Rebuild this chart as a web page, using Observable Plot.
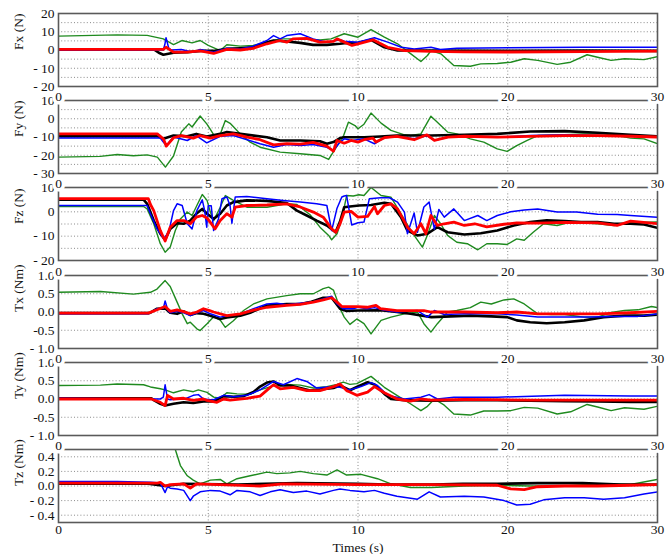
<!DOCTYPE html>
<html><head><meta charset="utf-8">
<script src="https://cdn.jsdelivr.net/npm/d3@7"></script>
<script src="https://cdn.jsdelivr.net/npm/@observablehq/plot@0.6"></script>
<style>
body{margin:0;background:#fff;}
#chart svg{display:block;font-family:"Liberation Serif",serif;}
#chart svg text{font-family:"Liberation Serif",serif;}
</style>
</head><body><div id="chart"></div>
<script>
// ---- axis ticks ----
const timeTicks = [0, 5, 10, 20, 30];
const timeTickLabels = ["0", "5", "10", "20", "30"];
const timeGrid = [5, 10, 20];
const timeBreaks = [0, 10, 30];

const fxTicks = [20, 10, 0, -10, -20];
const fxTickLabels = ["20", "10", "0", "- 10", "- 20"];
const fxGrid = [15, 10, 5, 0, -5, -10, -15];
const fyTicks = [10, 0, -10, -20, -30];
const fyTickLabels = ["10", "0", "- 10", "- 20", "- 30"];
const fyGrid = [5, 0, -5, -10, -15, -20, -25];
const fzTicks = [10, 0, -10, -20];
const fzTickLabels = ["10", "0", "- 10", "- 20"];
const fzGrid = [5, 0, -5, -10, -15];
const txTicks = [1, 0.5, 0, -0.5, -1];
const txTickLabels = ["1.0", "0.5", "0.0", "-0.5", "- 1.0"];
const txGrid = [0.5, 0, -0.5];
const tyTicks = [1, 0.5, 0, -0.5, -1];
const tyTickLabels = ["1.0", "0.5", "0.0", "-0.5", "- 1.0"];
const tyGrid = [0.5, 0, -0.5];
const tzTicks = [0.4, 0.2, 0, -0.2, -0.4];
const tzTickLabels = ["0.4", "0.2", "0.0", "- 0.2", "- 0.4"];
const tzGrid = [0.4, 0.2, 0, -0.2, -0.4];

// ---- series: [time (s), value] ----
const fxBlack = [[0,0.2],[3.2,0.2],[3.35,-1.5],[3.5,-2.6],[3.84,-1.5],[4.3,-1.2],[4.73,-0.5],[5.18,-0.5],[5.62,0.6],[6.07,1],[6.5,1.5],[6.96,4.3],[7.18,5.2],[7.62,4.7],[8.07,3.9],[8.5,2.8],[8.96,2.8],[9.4,3.4],[9.54,3.7],[10,3.9],[10.87,5.6],[11.76,1.5],[12.64,-0.3],[15,-0.3],[20,-0.5],[25,-0.3],[30,-0.5]];
const fxBlue = [[0,0],[3.5,0],[3.55,3],[3.59,6.7],[3.68,1],[3.77,0],[4.1,0.3],[4.5,-1.2],[4.73,0.3],[5.18,-1.2],[5.62,1],[6.07,0.6],[6.5,2.1],[6.96,5.2],[7.18,7.9],[7.4,6.1],[7.62,7.9],[8.07,8.9],[8.5,6.1],[8.96,4.3],[9.4,5.6],[9.54,4.8],[10,4.3],[11.1,6.7],[11.98,4.3],[12.9,1.5],[13.75,0.6],[14.87,1.5],[15.5,0.3],[16.6,1],[20,1.3],[25,1.5],[30,1.5]];
const fxRed = [[0,0.3],[3.5,0.3],[3.59,1.5],[3.84,-1.2],[4.3,-1.2],[4.73,-0.5],[5.18,-1.9],[5.62,0.3],[6.07,0],[6.5,0.9],[6.96,3.4],[7.4,5.2],[7.62,4.3],[7.84,6.1],[8.29,6.4],[8.73,4.3],[9.18,4.7],[9.3,6.1],[9.8,2.5],[10,3.4],[11,5.6],[11.98,1.5],[13.1,-0.3],[14.87,-0.7],[17,-1.0],[20,-1.1],[25,-0.9],[30,-0.6]];
const fxGreen = [[0,7.6],[1.96,8.3],[2.96,8.0],[3.5,6.1],[3.84,3.0],[4.12,5.2],[4.46,3.9],[4.73,5.2],[5.0,2.5],[5.4,-0.3],[5.62,2.9],[6.07,2.1],[6.5,2.5],[6.96,4.3],[7.4,6.1],[8.07,6.1],[8.73,5.5],[9.1,6.1],[9.54,8.9],[10,7.0],[10.87,11.2],[11.76,7.0],[12.64,3.4],[13.53,-2.1],[14.2,-6.3],[14.64,-3.0],[14.87,-0.3],[15.53,-2.1],[16.4,-8.5],[17.5,-8.9],[18.2,-7.6],[19.3,-7.4],[20.2,-6.7],[21.1,-4.8],[22,-5.7],[23.3,-7.9],[24.2,-6.7],[25.3,-2.6],[26,-4],[26.9,-5.7],[27.8,-4.8],[29.1,-5.3],[30,-3.6]];

const fyBlack = [[0,-9.5],[3.3,-9.5],[3.5,-11],[3.84,-9.2],[4.3,-9.6],[4.6,-8.3],[4.95,-9.7],[5.4,-8.3],[5.62,-7.3],[6.07,-8.3],[6.96,-10.1],[7.4,-11.9],[8.07,-11.9],[8.73,-12.3],[8.96,-13.7],[9.18,-12.8],[9.4,-10.6],[9.54,-10.1],[10.4,-10.1],[11.5,-9.7],[12.6,-9.2],[14.9,-9.2],[17.1,-8.8],[19.3,-8.3],[21.5,-7],[23.8,-6.8],[26,-7.7],[28.2,-8.8],[30,-9.7]];
const fyBlue = [[0,-10.6],[3.4,-10.6],[3.5,-12.8],[3.6,-14.7],[3.84,-10],[4.3,-11.9],[4.6,-9.2],[4.95,-13.2],[5.4,-9.6],[5.84,-9.2],[6.3,-11.5],[6.73,-13.7],[7.18,-15.6],[7.62,-14.1],[8.07,-14.7],[8.5,-14.1],[8.96,-15.6],[9.18,-17.4],[9.4,-12.8],[9.54,-11],[9.8,-11.9],[10.4,-11],[11.1,-13.7],[11.76,-10.4],[12.6,-9.7],[13.75,-11],[14.6,-9.2],[15.1,-11.9],[16,-10.1],[17.1,-10.1],[19.3,-10.1],[21.5,-9.2],[23.8,-8.8],[26,-9.2],[28.2,-9.6],[30,-10.1]];
const fyRed = [[0,-8.3],[3.3,-8.3],[3.5,-11],[3.6,-15],[3.84,-10.4],[4.1,-9.2],[4.5,-10.6],[4.73,-9.2],[5.07,-10.6],[5.4,-9.2],[5.84,-8.3],[6.3,-10.1],[6.73,-11.5],[7.18,-14.3],[7.62,-13.6],[8.07,-13.9],[8.5,-13],[8.96,-15],[9.18,-17.8],[9.3,-11.9],[9.54,-13.4],[9.77,-11.9],[10,-12.8],[10.4,-11.5],[11,-10.6],[11.2,-12.8],[11.76,-10.4],[12.6,-9.7],[13.75,-11.5],[14.6,-8.8],[15.1,-11.9],[16,-10.1],[17.1,-9.6],[19.3,-10.1],[21.5,-9.7],[23.8,-9.2],[26,-9.2],[28.2,-9.6],[30,-10]];
const fyGreen = [[0,-21],[1.4,-20.6],[1.96,-19.6],[2.5,-20.3],[2.96,-19.8],[3.3,-21],[3.57,-26.5],[3.84,-20.4],[4.1,-7.3],[4.35,-2.8],[4.46,-4.5],[4.73,1.5],[4.95,-2.8],[5.06,-5.5],[5.23,-10.1],[5.4,-8.5],[5.57,-1],[5.73,-2.5],[6.07,-8.3],[6.4,-12.8],[6.73,-15.6],[7.4,-18.3],[8.07,-19.2],[8.73,-20.1],[9.02,-22.3],[9.24,-16.5],[9.52,-9.2],[9.68,-1.9],[9.9,-3.7],[10.0,-5.5],[10.4,-3],[10.87,3.1],[11.54,-2.4],[12.2,-6.4],[13.1,-8.8],[13.53,-9.2],[14.2,-8.3],[14.87,1.4],[15.3,-1.9],[15.98,-7.3],[16.6,-8.3],[17.5,-11],[18.4,-12.8],[19.3,-16.5],[19.96,-17.9],[20.6,-14.7],[21.3,-11.9],[22,-9.2],[23.8,-8.7],[25.1,-8.3],[26.4,-8.3],[27.3,-9.2],[28.2,-10.6],[29.1,-11],[30,-13.7]];

const fzBlack = [[0,5],[2.84,5],[2.96,3.3],[3.18,-3.6],[3.4,-9],[3.56,-11.5],[3.73,-7],[3.96,-4.7],[4.18,-4.9],[4.4,-3.6],[4.6,-0.8],[4.8,1.2],[4.96,-0.8],[5.18,-2.9],[5.4,-0.8],[5.62,2.6],[5.84,4],[6.29,4.7],[6.96,4.5],[7.62,3.6],[7.96,0.5],[8.29,-1.5],[8.62,-3.6],[8.96,-5.6],[9.25,-8.4],[9.4,-4],[9.54,1.9],[9.73,2.2],[10.07,2.6],[10.87,2.8],[11.76,3.7],[12.2,3.3],[12.87,-2.2],[13.3,-7.7],[13.97,-9.7],[14.64,-9.0],[15.3,-6.3],[15.98,-8.4],[17.1,-9.3],[18.2,-8.8],[19.3,-7.7],[20.4,-5.6],[21.5,-4.2],[22.6,-3.5],[23.8,-3.8],[24.9,-4.2],[26,-4.2],[27.1,-4.9],[28.2,-4.9],[29.1,-5.2],[30,-6.6]];
const fzBlue = [[0,2.6],[2.96,2.6],[3.07,-0.8],[3.29,-7],[3.51,-11],[3.68,-8.4],[3.84,0.5],[3.96,3.3],[4.13,2.6],[4.3,-4.9],[4.46,-7],[4.62,0.5],[4.8,4.9],[4.88,0.5],[4.95,-6.3],[5.0,2.5],[5.1,2.5],[5.18,-7.7],[5.34,-3],[5.46,5.4],[5.62,6.1],[5.73,2.5],[5.79,-4.7],[5.9,6.1],[6.29,6.3],[6.96,5.4],[7.5,4.7],[8.07,4],[8.62,3.3],[8.96,2.6],[9.12,-7.7],[9.3,1.5],[9.46,6.1],[9.54,6.5],[9.62,6.7],[9.79,-5.4],[10,-4.5],[10.4,-4.2],[10.76,5.4],[11.5,5.8],[12.1,5.8],[12.64,4],[13.1,-0.1],[13.3,-9],[13.75,-0.5],[13.97,-8.4],[14.4,2],[14.75,4],[15.1,-7.1],[15.4,1],[15.76,-2.2],[16.4,1.2],[17.1,-3.6],[18,-1.5],[18.6,-3.6],[19.3,-1.5],[20.2,0],[21.1,0.8],[22,1.2],[23.3,-0.1],[24.6,-0.1],[26,-1],[27.3,-1.1],[28.2,-1.5],[30,-2.2]];
const fzRed = [[0,5.4],[3.0,5.4],[3.07,3],[3.18,0.5],[3.4,-7.7],[3.56,-12],[3.73,-6.3],[3.96,-3.6],[4.18,-3.6],[4.4,-4.9],[4.6,-2.2],[4.8,-1.5],[4.96,-2.5],[5.23,-7],[5.4,-3.6],[5.62,-0.8],[5.79,-2.2],[5.9,1.9],[6.29,2.6],[6.96,2.8],[7.62,3.3],[8.07,2],[8.51,-0.1],[8.84,-2.2],[9.12,-7],[9.26,-8.4],[9.4,-4.9],[9.54,-0.1],[9.77,0.2],[10,-2.2],[10.64,-1.9],[11.1,2.2],[11.3,-0.8],[11.76,2.6],[12.2,3.3],[12.64,1.2],[13.3,-6.3],[13.75,-9],[14.2,-4.9],[14.53,-9],[14.87,-1.5],[15.3,-5.6],[15.76,-4.9],[16.4,-4.2],[17.1,-5.6],[17.8,-4.9],[18.6,-6.2],[19.75,-5.1],[20.6,-4.5],[22,-4.6],[23.8,-4.3],[26,-4.5],[27.3,-5.6],[28.2,-3.8],[30,-4.9]];
const fzGreen = [[0,2.2],[2.84,2.2],[2.96,1.2],[3.18,-4.9],[3.4,-13.1],[3.56,-16.6],[3.73,-14.5],[3.9,-7.7],[4.07,-2.9],[4.3,-0.1],[4.46,-1.5],[4.62,2.6],[4.8,7.1],[4.96,4.7],[5.07,-0.1],[5.18,-3.6],[5.4,1.9],[5.57,6.7],[5.84,4.7],[6.29,1.9],[6.96,1.9],[7.62,3.3],[7.96,3],[8.4,-1.2],[8.73,-6.3],[9.02,-9.7],[9.12,-11.5],[9.3,-9],[9.46,-3],[9.62,6.7],[9.84,6.5],[10.07,7],[10.4,6.7],[10.87,10],[11.54,6.7],[12.2,6],[12.87,-0.8],[13.53,-7.7],[14.3,-14.5],[14.64,-9.5],[15.1,-1.5],[15.53,-5],[15.98,-9.7],[16.6,-12.5],[17.3,-13.1],[18,-15.6],[18.6,-13.1],[19.3,-13.1],[19.96,-13.4],[20.6,-11.1],[21.1,-11.7],[21.7,-8.4],[22.4,-4.9],[23.3,-5.6],[24.2,-4.2],[26,-4.9],[27.1,-5.6],[28.2,-4.5],[30,-4.2]];

const txBlack = [[0,-0.03],[3.0,-0.03],[3.07,-0.02],[3.29,0.09],[3.56,0.1],[3.73,-0.02],[3.96,-0.05],[4.18,0.02],[4.4,-0.08],[4.62,-0.03],[4.84,-0.05],[5.07,-0.1],[5.4,-0.19],[5.62,-0.15],[6.07,-0.1],[6.4,-0.02],[6.96,0.18],[7.62,0.22],[8.07,0.22],[8.4,0.27],[8.84,0.39],[9.12,0.39],[9.4,0.09],[9.62,0.03],[10.0,0.04],[11.5,0.05],[12.6,0],[13.5,-0.05],[14.9,-0.14],[16.2,-0.12],[17.5,-0.1],[18.9,-0.12],[19.96,-0.14],[20.6,-0.23],[21.5,-0.28],[22.6,-0.31],[23.8,-0.28],[25.1,-0.23],[26.4,-0.14],[27.8,-0.1],[29.1,-0.1],[30,-0.07]];
const txBlue = [[0,-0.05],[3.0,-0.05],[3.29,0.09],[3.5,0.1],[3.56,0.3],[3.65,0.05],[3.73,-0.02],[3.96,0.02],[4.18,-0.02],[4.4,-0.1],[4.62,-0.02],[4.84,0.04],[5.07,-0.05],[5.4,-0.14],[5.62,-0.1],[6.07,-0.05],[6.51,0.09],[6.96,0.22],[7.29,0.24],[7.62,0.2],[8.07,0.24],[8.51,0.28],[8.84,0.36],[9.12,0.43],[9.3,0.22],[9.5,0.09],[9.84,0.09],[10,0.13],[10.6,0.09],[11.1,0.12],[11.76,0.05],[12.6,0],[13.97,0.04],[14.64,-0.14],[15.1,0.04],[15.76,-0.07],[17.1,-0.05],[19.3,-0.05],[20.6,-0.08],[22,-0.14],[23.8,-0.14],[25.5,-0.14],[27.1,-0.12],[28.7,-0.12],[30,-0.05]];
const txRed = [[0,-0.03],[3.0,-0.03],[3.29,0.06],[3.56,0.15],[3.73,0.02],[3.96,0.06],[4.18,0.01],[4.4,-0.05],[4.62,0.0],[4.84,0.09],[5.07,0.03],[5.18,0.0],[5.62,-0.1],[6.07,-0.05],[6.51,0.05],[6.96,0.13],[7.62,0.18],[8.07,0.21],[8.51,0.27],[8.84,0.33],[9.12,0.39],[9.3,0.27],[9.46,0.15],[9.84,0.15],[10,0.15],[10.6,0.13],[11.2,0.18],[11.5,0.09],[12.6,0.04],[14.4,0.04],[14.87,0.0],[17.1,0.0],[19.3,-0.02],[20.6,0],[22,-0.05],[26,-0.05],[28.2,-0.02],[30,0.02]];
const txGreen = [[0,0.54],[1.4,0.56],[2.5,0.49],[3.07,0.54],[3.29,0.63],[3.56,0.86],[3.73,0.7],[3.96,0.27],[4.13,-0.05],[4.3,-0.32],[4.4,-0.28],[4.62,-0.46],[4.73,-0.51],[4.96,-0.32],[5.18,-0.13],[5.4,-0.22],[5.57,-0.42],[5.84,-0.24],[6.18,0.04],[6.51,0.22],[6.96,0.36],[7.62,0.45],[8.07,0.5],[8.51,0.5],[8.84,0.64],[9.02,0.68],[9.18,0.6],[9.4,0.1],[9.54,-0.14],[9.73,-0.34],[9.96,-0.19],[10.4,-0.32],[10.87,-0.6],[11.54,-0.23],[12.2,-0.14],[13.1,-0.05],[13.97,0],[14.4,-0.32],[14.87,-0.55],[15.3,-0.32],[15.98,0],[16.6,0.04],[17.5,0.12],[18.2,0.27],[18.9,0.22],[19.75,0.33],[20.4,0.36],[21.1,0.22],[22,-0.05],[22.9,-0.07],[23.8,-0.07],[25.1,-0.14],[26,-0.14],[26.9,-0.01],[27.8,0.04],[28.7,0.06],[29.6,0.15],[30,0.12]];

const tyBlack = [[0,0.02],[3.1,0.02],[3.18,-0.03],[3.4,-0.13],[3.56,-0.18],[3.84,-0.13],[4.18,-0.09],[4.5,-0.11],[4.84,-0.07],[5.18,-0.07],[5.51,0.08],[5.84,0.06],[6.18,0.08],[6.51,0.19],[6.73,0.34],[6.96,0.45],[7.18,0.48],[7.4,0.37],[7.73,0.37],[8.07,0.3],[8.4,0.23],[8.73,0.26],[9.18,0.3],[9.4,0.37],[9.73,0.24],[9.96,0.33],[10.64,0.46],[11.1,0.4],[11.76,0.14],[12.2,0.0],[13.1,-0.03],[14.9,-0.05],[17.1,-0.03],[19.3,-0.03],[21.5,-0.05],[23.8,-0.06],[26,-0.07],[28.2,-0.08],[30,-0.08]];
const tyBlue = [[0,0.02],[3.4,0.0],[3.5,0.05],[3.56,0.39],[3.64,0.0],[3.73,-0.02],[3.96,0.0],[4.18,-0.01],[4.5,0.1],[4.67,0.12],[4.84,0.0],[5.07,-0.02],[5.18,-0.02],[5.51,0.1],[5.84,0.06],[6.29,0.1],[6.73,0.25],[7.18,0.48],[7.51,0.39],[7.96,0.56],[8.29,0.48],[8.62,0.3],[9.18,0.34],[9.4,0.32],[9.73,0.25],[10.2,0.34],[10.87,0.45],[11.3,0.37],[11.98,0.1],[13.1,0.0],[14.2,0.05],[14.75,0.12],[15.3,0.0],[16.4,0.05],[19.3,0.05],[23.8,0.1],[28.2,0.08],[30,0.08]];
const tyRed = [[0,0.0],[3.1,0.0],[3.4,-0.09],[3.56,-0.18],[3.64,0.1],[3.84,0.0],[4.18,0.02],[4.5,-0.04],[4.84,0.0],[4.96,-0.04],[5.29,-0.09],[5.51,0.0],[5.73,-0.03],[6.29,0.02],[6.73,0.08],[7.07,0.32],[7.18,0.39],[7.4,0.28],[7.84,0.32],[8.29,0.23],[8.73,0.23],[9.18,0.34],[9.4,0.41],[9.62,0.23],[9.73,0.19],[9.96,0.1],[10.64,0.19],[11.1,0.34],[11.76,0.17],[12.6,0.0],[13.5,-0.06],[14.2,0.0],[14.87,-0.03],[17.1,-0.01],[21.5,-0.03],[26,-0.03],[30,-0.03]];
const tyGreen = [[0,0.37],[1.4,0.38],[1.96,0.41],[2.84,0.39],[3.07,0.33],[3.4,0.28],[3.56,0.25],[3.84,0.17],[4.18,0.25],[4.5,0.2],[4.67,0.25],[4.96,0.18],[5.18,0.05],[5.4,0.02],[5.62,0.17],[5.96,0.14],[6.4,0.13],[6.73,0.25],[7.18,0.36],[7.62,0.4],[8.07,0.38],[8.51,0.3],[8.96,0.34],[9.3,0.4],[9.51,0.46],[9.73,0.4],[9.96,0.42],[10.87,0.62],[11.76,0.32],[12.6,0.1],[13.5,-0.13],[14.2,-0.32],[14.64,-0.2],[15.1,0.0],[15.76,-0.17],[16.4,-0.41],[17.5,-0.44],[18.4,-0.33],[19.3,-0.33],[20.2,-0.32],[21.1,-0.23],[22,-0.25],[23.3,-0.41],[24.2,-0.35],[25.3,-0.15],[26,-0.22],[26.9,-0.32],[27.8,-0.24],[29.1,-0.28],[30,-0.2]];

const tzBlack = [[0,0.03],[3.0,0.03],[3.56,0.0],[4.18,0.03],[6,0.02],[7.96,0.04],[10,0.03],[12,0.02],[15,0.02],[17,0.03],[19.3,0.03],[22,0.04],[25,0.04],[27.5,0.02],[30,0.02]];
const tzBlue = [[0,0.06],[1.96,0.06],[3.07,0.05],[3.4,0.04],[3.56,-0.09],[3.64,-0.01],[3.73,-0.03],[3.96,-0.04],[4.18,-0.06],[4.4,-0.2],[4.5,-0.14],[4.73,-0.08],[5.07,-0.06],[5.4,-0.07],[5.73,-0.12],[5.96,-0.06],[6.4,-0.08],[6.73,-0.13],[7.07,-0.08],[7.4,-0.05],[7.84,-0.09],[8.29,-0.07],[8.73,-0.11],[9.18,-0.06],[9.4,-0.04],[9.73,-0.06],[10.4,-0.08],[11.1,-0.06],[11.76,-0.1],[12.6,-0.14],[13.97,-0.18],[14.75,-0.08],[15.5,-0.15],[17.1,-0.14],[18.4,-0.15],[19.75,-0.2],[20.6,-0.26],[21.5,-0.25],[22.4,-0.19],[23.8,-0.16],[25.1,-0.16],[26.4,-0.18],[27.8,-0.16],[29.1,-0.11],[30,-0.08]];
const tzRed = [[0,0.04],[3.3,0.04],[3.4,0.05],[3.56,0.0],[3.73,0.02],[4.18,0.03],[4.4,-0.03],[4.5,0.0],[4.62,0.03],[6.73,0.0],[7.5,0.03],[10,0.02],[15,0.02],[19.3,0.01],[20.2,-0.04],[21.1,-0.05],[22,-0.01],[23.8,0.0],[26,0.0],[28.2,0.01],[30,0.02]];
const tzGreen = [[0,0.9],[3.5,0.8],[3.9,0.5],[4.07,0.28],[4.3,0.14],[4.5,0.08],[4.73,0.03],[5.07,0.08],[5.4,0.09],[5.62,0.03],[5.96,0.1],[6.4,0.14],[6.96,0.19],[7.29,0.17],[7.73,0.18],[8.07,0.2],[8.51,0.17],[8.96,0.15],[9.3,0.22],[9.62,0.15],[10.2,0.16],[11.3,0.1],[12.2,0.03],[13.5,-0.02],[14.9,-0.02],[17.1,0.0],[19.3,0.01],[21.5,0.0],[23.8,0.0],[26,0.03],[28.2,0.02],[30,0.09]];

// ---- styling ----
const seriesOrder = ["green", "black", "blue", "red"];
const seriesColor = {green: "#1f8a1f", black: "#000000", blue: "#0000ff", red: "#ff0000"};
const seriesWidth = {green: 1.4, black: 2.6, blue: 1.5, red: 2.8};
const font = "Liberation Serif";
const fs = 13.5;

const panels = [
  {title: "Fx (N)", domain: [-20, 20], ticks: fxTicks, labels: fxTickLabels, grid: fxGrid, data: {green: fxGreen, black: fxBlack, blue: fxBlue, red: fxRed}},
  {title: "Fy (N)", domain: [-30, 10], ticks: fyTicks, labels: fyTickLabels, grid: fyGrid, data: {green: fyGreen, black: fyBlack, blue: fyBlue, red: fyRed}},
  {title: "Fz (N)", domain: [-20, 10], ticks: fzTicks, labels: fzTickLabels, grid: fzGrid, data: {green: fzGreen, black: fzBlack, blue: fzBlue, red: fzRed}},
  {title: "Tx (Nm)", domain: [-1, 1], ticks: txTicks, labels: txTickLabels, grid: txGrid, data: {green: txGreen, black: txBlack, blue: txBlue, red: txRed}},
  {title: "Ty (Nm)", domain: [-1, 1], ticks: tyTicks, labels: tyTickLabels, grid: tyGrid, data: {green: tyGreen, black: tyBlack, blue: tyBlue, red: tyRed}},
  {title: "Tz (Nm)", domain: [-0.5, 0.5], ticks: tzTicks, labels: tzTickLabels, grid: tzGrid, data: {green: tzGreen, black: tzBlack, blue: tzBlue, red: tzRed}}
];
const heights = [87, 87, 87, 88, 87, 124];
const marginTops = [13, 13, 13, 14, 13, 13];
const marginBottoms = [1, 1, 1, 1, 1, 38];

const W = 671, ML = 58, MR = 14;
const xMid = ML + (W - ML - MR) / 2;
const chart = document.getElementById("chart");

panels.forEach((p, k) => {
  const last = k === panels.length - 1;
  const marks = [
    Plot.ruleY(p.grid, {y: d => d, stroke: "#8a8a8a", strokeWidth: 1, strokeDasharray: "1,2.2"}),
    Plot.ruleX(timeGrid, {x: d => d, stroke: "#8a8a8a", strokeWidth: 1, strokeDasharray: "1,2.2"}),
    ...seriesOrder.map(s => Plot.line(p.data[s], {
      x: d => d[0], y: d => d[1], stroke: seriesColor[s], strokeWidth: seriesWidth[s],
      strokeLinejoin: "round", clip: true
    })),
    Plot.frame({stroke: "#5a5a5a", strokeWidth: 1.6}),
    Plot.text(p.ticks, {y: d => d, text: (d, i) => p.labels[i], frameAnchor: "left", textAnchor: "end", dx: -4, fontSize: fs, fontFamily: font, fill: "#111"}),
    Plot.text([p.title], {frameAnchor: "left", rotate: -90, dx: -40, fontSize: fs, fontFamily: font, fill: "#111"})
  ];
  if (k > 0) {
    marks.push(Plot.text(timeTicks, {
      x: d => d, text: (d, i) => timeTickLabels[i], frameAnchor: "top", lineAnchor: "bottom", dy: 0,
      fontSize: fs, fontFamily: font, fill: "#111", stroke: "white", strokeWidth: 7, paintOrder: "stroke", strokeLinejoin: "round"
    }));
  }
  if (last) {
    marks.push(Plot.text(timeTicks, {
      x: d => d, text: (d, i) => timeTickLabels[i], frameAnchor: "bottom", lineAnchor: "top", dy: 2, fontSize: fs, fontFamily: font, fill: "#111"
    }));
    marks.push(Plot.text(["Times (s)"], {frameAnchor: "bottom", lineAnchor: "bottom", dy: 29, fontSize: fs, fontFamily: font, fill: "#111"}));
  }
  const svg = Plot.plot({
    width: W, height: heights[k],
    marginLeft: ML, marginRight: MR, marginTop: marginTops[k], marginBottom: marginBottoms[k],
    style: {background: "transparent", overflow: "visible", fontFamily: font, fontSize: fs + "px"},
    x: {type: "linear", domain: timeBreaks, range: [ML, xMid, W - MR], axis: null},
    y: {domain: p.domain, axis: null},
    marks
  });
  chart.appendChild(svg);
});
</script>
</body></html>
